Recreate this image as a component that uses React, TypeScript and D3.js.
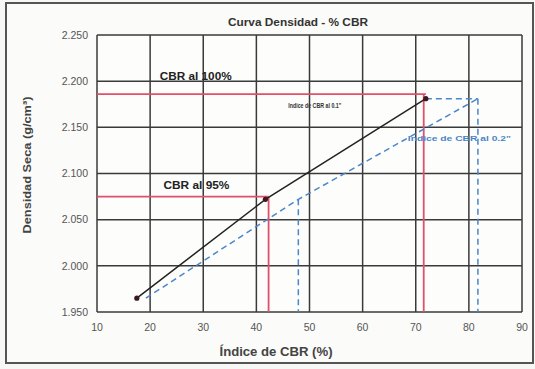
import React from "react";
import * as d3 from "d3";

const width = 535;
const height = 369;

const margin = { left: 97, right: 13, top: 35, bottom: 57 };
const innerW = width - margin.left - margin.right;
const innerH = height - margin.top - margin.bottom;

// CBR data
const cbr01 = [17.5, 41.7, 71.9];
const cbr02 = [19.2, 47.9, 81.7];
const density = [1.965, 2.072, 2.181];

const xTicks = [10, 20, 30, 40, 50, 60, 70, 80, 90];
const yTicks = [1.95, 2.0, 2.05, 2.1, 2.15, 2.2, 2.25];

// reference lines
const dens100 = 2.186;
const cbr100 = 71.5;
const dens95 = 2.075;
const cbr95 = 42.3;

const x = d3.scaleLinear().domain([10, 90]).range([0, innerW]);
const y = d3.scaleLinear().domain([1.95, 2.25]).range([innerH, 0]);

const lineGen = d3
  .line<[number, number]>()
  .x((d) => x(d[0]))
  .y((d) => y(d[1]));

const black = cbr01.map((c, i) => [c, density[i]] as [number, number]);
const blue = cbr02.map((c, i) => [c, density[i]] as [number, number]);

const font = "'Liberation Sans', Arial, sans-serif";
const red = "#e0506a";
const blueC = "#4a86c8";

export default function App() {
  const last = density.length - 1;
  return (
    <svg width={width} height={height} style={{ position: "absolute", left: 0, top: 0, background: "#f7f7f5" }}>
      <rect x={6} y={3} width={width - 8} height={360} fill="#fbfbf9" stroke="#555" strokeWidth={2} />
      <text x={298} y={26} textAnchor="middle" fontFamily={font} fontSize={10} fontWeight="bold" fill="#333" textLength={140} lengthAdjust="spacingAndGlyphs">
        Curva Densidad - % CBR
      </text>
      <g transform={`translate(${margin.left},${margin.top})`}>
        <rect width={innerW} height={innerH} fill="#fdfdfc" />
        {/* grid */}
        {xTicks.map((t) => (
          <line key={"gx" + t} x1={x(t)} x2={x(t)} y1={0} y2={innerH} stroke="#3a3a3a" strokeWidth={1.5} />
        ))}
        {yTicks.map((t) => (
          <line key={"gy" + t} x1={0} x2={innerW} y1={y(t)} y2={y(t)} stroke="#3a3a3a" strokeWidth={1.5} />
        ))}
        {/* tick labels */}
        {yTicks.map((t) => (
          <text key={"ty" + t} x={-9} y={y(t)} dy="0.35em" textAnchor="end" fontFamily={font} fontSize={10.5} fill="#555">
            {d3.format(".3f")(t)}
          </text>
        ))}
        {xTicks.map((t) => (
          <text key={"tx" + t} x={x(t)} y={innerH + 19} textAnchor="middle" fontFamily={font} fontSize={10.5} fill="#555">
            {t}
          </text>
        ))}
        {/* red reference lines */}
        <path d={lineGen([[10, dens100], [cbr01[last], dens100]])!} stroke={red} strokeWidth={1.8} fill="none" />
        <path d={lineGen([[cbr100, dens100], [cbr100, 1.95]])!} stroke={red} strokeWidth={1.8} fill="none" />
        <path d={lineGen([[10, dens95], [cbr95, dens95]])!} stroke={red} strokeWidth={1.8} fill="none" />
        <path d={lineGen([[cbr95, dens95], [cbr95, 1.95]])!} stroke={red} strokeWidth={1.8} fill="none" />
        {/* blue dashed helpers */}
        <path d={lineGen([[cbr01[last], density[last]], [cbr02[last], density[last]]])!} stroke={blueC} strokeWidth={1.5} strokeDasharray="6,4" fill="none" />
        <path d={lineGen([[cbr02[last], density[last]], [cbr02[last], 1.95]])!} stroke={blueC} strokeWidth={1.5} strokeDasharray="6,4" fill="none" />
        <path d={lineGen([[cbr02[1], density[1]], [cbr02[1], 1.95]])!} stroke={blueC} strokeWidth={1.5} strokeDasharray="6,4" fill="none" />
        {/* curves */}
        <path d={lineGen(blue)!} stroke={blueC} strokeWidth={1.5} strokeDasharray="6,4" fill="none" />
        <path d={lineGen(black)!} stroke="#222" strokeWidth={1.5} fill="none" />
        {black.map((d, i) => (
          <circle key={"p" + i} cx={x(d[0])} cy={y(d[1])} r={2.6} fill="#3a1a1e" />
        ))}
        {/* annotations */}
        <text x={x(21.8)} y={y(2.2) - 1} fontFamily={font} fontSize={10.5} fontWeight="bold" fill="#222" textLength={72} lengthAdjust="spacingAndGlyphs">
          CBR al 100%
        </text>
        <text x={x(22.5)} y={y(2.1) + 15} fontFamily={font} fontSize={10.5} fontWeight="bold" fill="#222" textLength={66} lengthAdjust="spacingAndGlyphs">
          CBR al 95%
        </text>
        <text x={x(46)} y={y(2.171)} fontFamily={font} fontSize={8} fontWeight="bold" fill="#333" textLength={53} lengthAdjust="spacingAndGlyphs">
          Indice de CBR al 0.1"
        </text>
        <text x={x(68.5)} y={y(2.135)} fontFamily={font} fontSize={8} fontWeight="bold" fill={blueC} textLength={103} lengthAdjust="spacingAndGlyphs">
          Indice de CBR al 0.2"
        </text>
      </g>
      <text
        transform={`translate(31,165) rotate(-90)`}
        textAnchor="middle"
        fontFamily={font}
        fontSize={10.5}
        fontWeight="bold"
        fill="#444"
        textLength={137}
        lengthAdjust="spacingAndGlyphs"
      >
        Densidad Seca (g/cm³)
      </text>
      <text x={276} y={356} textAnchor="middle" fontFamily={font} fontSize={12} fontWeight="bold" fill="#444" textLength={113} lengthAdjust="spacingAndGlyphs">
        Índice de CBR (%)
      </text>
    </svg>
  );
}
